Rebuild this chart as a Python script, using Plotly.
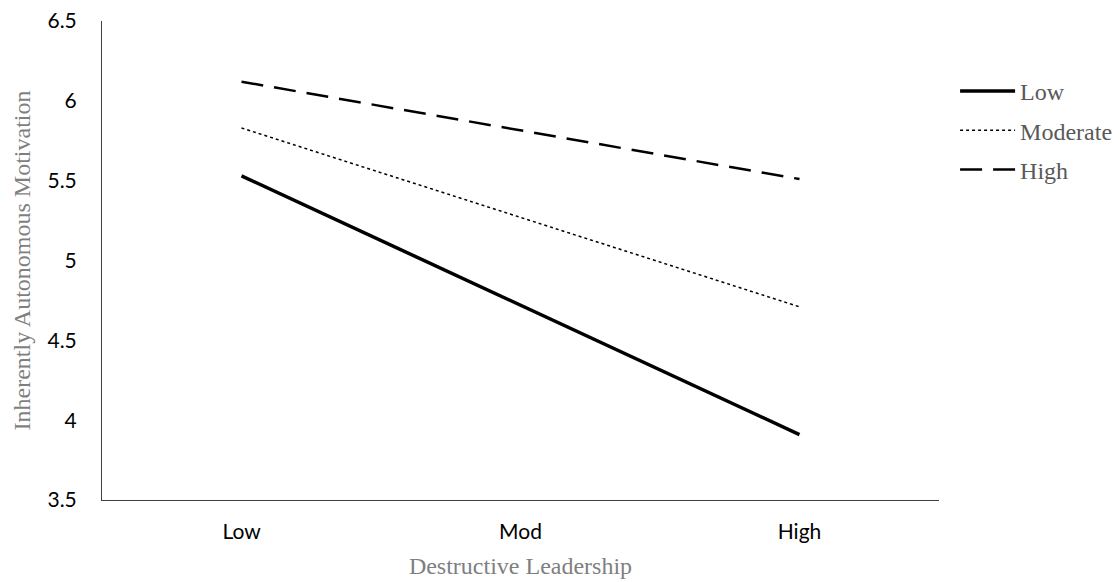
import plotly.graph_objects as go

categories = ["Low", "Mod", "High"]
x_points = ["Low", "High"]
series_names = ["Low", "Moderate", "High"]
low_vals = [5.53, 3.91]
moderate_vals = [5.83, 4.71]
high_vals = [6.12, 5.51]
y_ticks = [3.5, 4, 4.5, 5, 5.5, 6, 6.5]
y_tick_labels = ["3.5", "4", "4.5", "5", "5.5", "6", "6.5"]

styles = [
    dict(color="black", width=3.5, dash="solid"),
    dict(color="black", width=1.5, dash="dot"),
    dict(color="black", width=2.5, dash="22px,11px"),
]

fig = go.Figure()
for name, vals, st in zip(series_names, [low_vals, moderate_vals, high_vals], styles):
    fig.add_trace(go.Scatter(x=x_points, y=vals, mode="lines", name=name,
                             line=st, legendgroup=name))

fig.update_layout(
    width=1120, height=582,
    margin=dict(l=94, r=188, t=13, b=90),
    paper_bgcolor="white", plot_bgcolor="white",
    showlegend=True,
    legend=dict(x=1.018, y=0.90, xanchor="left", yanchor="top",
                font=dict(family="Liberation Serif", size=24, color="#595959"),
                itemwidth=55, tracegroupgap=5, bgcolor="rgba(0,0,0,0)"),
    xaxis=dict(type="category", categoryorder="array", categoryarray=categories,
               range=[-0.5, 2.5], showgrid=False, zeroline=False,
               showline=True, linecolor="#404040", linewidth=1,
               ticks="", ticklabelstandoff=13, automargin=False,
               tickfont=dict(family="Lato", size=21, color="black"),
               title=dict(text="Destructive Leadership", standoff=14,
                          font=dict(family="Liberation Serif", size=24, color="#7f7f7f"))),
    yaxis=dict(range=[3.5, 6.5], tickvals=y_ticks, ticktext=y_tick_labels,
               showgrid=False, zeroline=False,
               showline=True, linecolor="#404040", linewidth=1,
               ticks="", ticklabelstandoff=20, automargin=False,
               ticklabeloverflow="allow",
               tickfont=dict(family="Lato", size=21, color="black"),
               title=dict(text="Inherently Autonomous Motivation", standoff=10,
                          font=dict(family="Liberation Serif", size=24, color="#7f7f7f"))),
)

fig.write_html("out.html")
